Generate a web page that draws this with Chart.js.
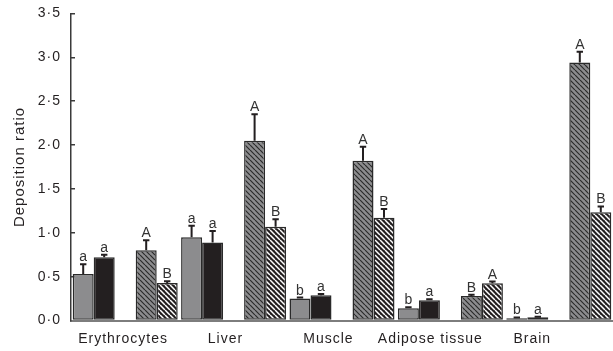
<!DOCTYPE html>
<html>
<head>
<meta charset="utf-8">
<script src="https://cdn.jsdelivr.net/npm/chart.js@4/dist/chart.umd.min.js"></script>
<style>
html,body{margin:0;padding:0;background:#fff;}
canvas{display:block;}
</style>
</head>
<body>
<canvas id="c" width="613" height="351"></canvas>
<script>
const categories = ['Erythrocytes', 'Liver', 'Muscle', 'Adipose tissue', 'Brain'];
const yTicks = [0, 0.5, 1, 1.5, 2, 2.5, 3, 3.5];

const greySolid = [0.53, 0.95, 0.25, 0.14, 0.025];
const greySolidErr = [0.11, 0.13, 0.012, 0.011, 0.01];
const greySolidLetters = ['a', 'a', 'b', 'b', 'b'];

const blackSolid = [0.72, 0.89, 0.287, 0.23, 0.036];
const blackSolidErr = [0.03, 0.13, 0.015, 0.012, 0.008];
const blackSolidLetters = ['a', 'a', 'a', 'a', 'a'];

const greyHatched = [0.80, 2.05, 1.82, 0.28, 2.94];
const greyHatchedErr = [0.115, 0.30, 0.16, 0.014, 0.125];
const greyHatchedLetters = ['A', 'A', 'A', 'B', 'A'];

const blackHatched = [0.428, 1.07, 1.17, 0.424, 1.235];
const blackHatchedErr = [0.02, 0.085, 0.10, 0.02, 0.065];
const blackHatchedLetters = ['B', 'B', 'B', 'A', 'B'];

const FONT = '"Liberation Sans", Arial, Helvetica, sans-serif';
const INK = '#231f20';
const GREY = '#8c8c8e';

// category label shifts (the original labels are not exactly centred on their groups)
const labelShift = [-0.02, -0.075, -0.125, -0.185, -0.245];

function hatch(bg, fg, s, lw) {
  const c = document.createElement('canvas');
  c.width = s; c.height = s;
  const g = c.getContext('2d');
  g.fillStyle = bg; g.fillRect(0, 0, s, s);
  g.strokeStyle = fg; g.lineWidth = lw;
  g.beginPath();
  for (let k = -1; k <= 1; k++) { g.moveTo(k * s, 0); g.lineTo(k * s + s, s); }
  g.stroke();
  return g.createPattern(c, 'repeat');
}

const greyHatch = hatch(GREY, '#2b2b2b', 5, 1.2);
const blackHatch = hatch(INK, '#ffffff', 5, 1.5);

const barStyle = { borderColor: '#2a2a2a', borderWidth: 1.5, borderSkipped: false, barPercentage: 1, categoryPercentage: 0.9686 };

const errSeries = [
  { index: 0, values: greySolid, errs: greySolidErr, letters: greySolidLetters },
  { index: 1, values: blackSolid, errs: blackSolidErr, letters: blackSolidLetters },
  { index: 3, values: greyHatched, errs: greyHatchedErr, letters: greyHatchedLetters },
  { index: 4, values: blackHatched, errs: blackHatchedErr, letters: blackHatchedLetters }
];

const spacingPlugin = {
  id: 'spacing',
  beforeLayout(chart) { chart.ctx.letterSpacing = '1px'; },
  beforeDraw(chart) { chart.ctx.letterSpacing = '1px'; }
};

const errPlugin = {
  id: 'errbars',
  afterDatasetsDraw(chart) {
    const ctx = chart.ctx;
    const y = chart.scales.y;
    ctx.save();
    ctx.letterSpacing = '0px';
    ctx.strokeStyle = INK;
    ctx.fillStyle = '#333333';
    ctx.lineWidth = 2;
    ctx.font = '14px ' + FONT;
    ctx.textAlign = 'center';
    ctx.textBaseline = 'alphabetic';
    errSeries.forEach(s => {
      const meta = chart.getDatasetMeta(s.index);
      meta.data.forEach((bar, i) => {
        const top = y.getPixelForValue(s.values[i] + s.errs[i]);
        ctx.beginPath();
        ctx.moveTo(bar.x, bar.y);
        ctx.lineTo(bar.x, top);
        ctx.moveTo(bar.x - 3.2, top);
        ctx.lineTo(bar.x + 3.2, top);
        ctx.stroke();
        ctx.fillText(s.letters[i], bar.x, top - 3);
      });
    });
    ctx.restore();
  }
};

new Chart(document.getElementById('c'), {
  type: 'bar',
  data: {
    labels: categories,
    datasets: [
      Object.assign({ data: greySolid, backgroundColor: GREY }, barStyle),
      Object.assign({ data: blackSolid, backgroundColor: INK }, barStyle),
      Object.assign({ data: categories.map(() => null), backgroundColor: 'rgba(0,0,0,0)' }, barStyle),
      Object.assign({ data: greyHatched, backgroundColor: greyHatch }, barStyle),
      Object.assign({ data: blackHatched, backgroundColor: blackHatch }, barStyle)
    ]
  },
  options: {
    responsive: false,
    devicePixelRatio: 1,
    animation: false,
    layout: { padding: { top: 13.5, right: 0, left: 0, bottom: 0 } },
    plugins: { legend: { display: false }, tooltip: { enabled: false } },
    scales: {
      x: {
        type: 'category',
        position: 'bottom',
        weight: 0,
        offset: true,
        grid: { display: false },
        ticks: { display: false },
        border: { display: true, color: '#7d7d7d', width: 2 },
        afterFit(s) { s.height = 0; }
      },
      xl: {
        type: 'linear',
        position: 'bottom',
        weight: 1,
        offset: false,
        min: -0.5,
        max: 4.5,
        grid: { display: false, offset: false },
        border: { display: false },
        afterBuildTicks(axis) {
          axis.ticks = categories.map((c, i) => ({ value: i + labelShift[i] }));
        },
        ticks: {
          autoSkip: false,
          maxRotation: 0,
          padding: 2,
          color: INK,
          font: { family: FONT, size: 14 },
          callback: (v, i) => categories[i]
        },
        afterFit(s) { s.height = 30.5; s.paddingLeft = 0; s.paddingRight = 0; }
      },
      y: {
        min: 0,
        max: 3.5,
        afterBuildTicks(axis) { axis.ticks = yTicks.map(v => ({ value: v })); },
        grid: { display: true, drawOnChartArea: false, drawTicks: true, tickLength: -4, color: '#3a3a3a', lineWidth: 1.5 },
        border: { display: true, color: '#3a3a3a', width: 1.5 },
        ticks: {
          padding: 14,
          color: INK,
          font: { family: FONT, size: 14 },
          callback: v => v.toFixed(1).replace('.', '\u00b7')
        },
        title: {
          display: true,
          text: 'Deposition ratio',
          color: INK,
          font: { family: FONT, size: 15 },
          padding: { top: 11, bottom: 0 }
        },
        afterFit(s) { s.width = 71; s.paddingTop = 0; s.paddingBottom = 0; }
      }
    }
  },
  plugins: [spacingPlugin, errPlugin]
});
</script>
</body>
</html>
